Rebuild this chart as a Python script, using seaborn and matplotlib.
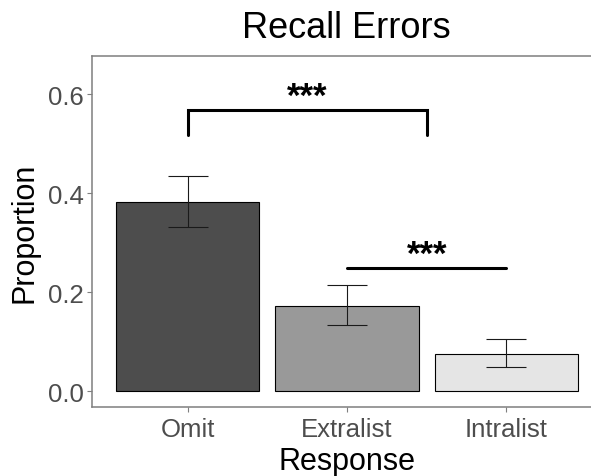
import matplotlib
matplotlib.use("Agg")
import matplotlib.pyplot as plt
import seaborn as sns
import pandas as pd
import numpy as np

# Recall error proportions by response type
categories = ["Omit", "Extralist", "Intralist"]
proportion = [0.383, 0.172, 0.076]
err_low = [0.331, 0.133, 0.049]
err_high = [0.435, 0.2135, 0.105]
bar_colors = ["#4d4d4d", "#999999", "#e5e5e5"]
y_ticks = [0.0, 0.2, 0.4, 0.6]

# Significance brackets: (x_start, x_end, y_line, y_leg_end, label)
sig_bracket = (0, 1.5, 0.568, 0.518, "***")
sig_line = (1, 2, 0.248, "***")

sns.set_theme(style="white")
plt.rcParams["font.family"] = ["Liberation Sans", "DejaVu Sans"]

df = pd.DataFrame({"Response": categories, "Proportion": proportion})

fig = plt.figure(figsize=(5.91, 4.77), dpi=100)
ax = fig.add_axes([0.1557, 0.1447, 0.863, 0.7358])

sns.barplot(data=df, x="Response", y="Proportion", hue="Response",
            palette=bar_colors, order=categories, hue_order=categories,
            width=0.9, edgecolor="black", linewidth=0.8, legend=False, ax=ax)

xs = np.arange(len(categories))
yerr = [np.array(proportion) - np.array(err_low),
        np.array(err_high) - np.array(proportion)]
ax.errorbar(xs, proportion, yerr=yerr, fmt="none", ecolor="#1a1a1a",
            elinewidth=0.8, capsize=14.4, capthick=0.8, zorder=5)

# bracket between Omit and the right side
x0, x1, yl, yb, lab = sig_bracket
ax.plot([x0, x0, x1, x1], [yb, yl, yl, yb], color="black", lw=2.2,
        solid_joinstyle="miter", zorder=6)
ax.text((x0 + x1) / 2, 0.596, lab, ha="center", va="center",
        fontsize=25, fontweight="bold", color="black")

x0, x1, yl, lab = sig_line
ax.plot([x0, x1], [yl, yl], color="black", lw=2.2, zorder=6)
ax.text((x0 + x1) / 2, 0.276, lab, ha="center", va="center",
        fontsize=25, fontweight="bold", color="black")

ax.set_xlim(-0.6, 2.6)
ax.set_ylim(-0.032, 0.677)
ax.set_yticks(y_ticks)
ax.set_yticklabels([f"{v:.1f}" for v in y_ticks])

for s in ax.spines.values():
    s.set_visible(True)
    s.set_color("#7f7f7f")
    s.set_linewidth(1.1)

ax.tick_params(axis="both", which="major", direction="out", length=3.5,
               width=0.8, color="#7f7f7f", labelsize=18.5,
               labelcolor="#4d4d4d", pad=2.5, bottom=True, left=True)
ax.tick_params(axis="x", pad=3.5)

ax.set_xlabel("Response", fontsize=22, color="black", labelpad=3.5)
ax.set_ylabel("Proportion", fontsize=22, color="black", labelpad=6)
fig.text(0.586, 0.94, "Recall Errors", ha="center", va="center",
         fontsize=26, color="black")

fig.savefig("out.png", dpi=100)
